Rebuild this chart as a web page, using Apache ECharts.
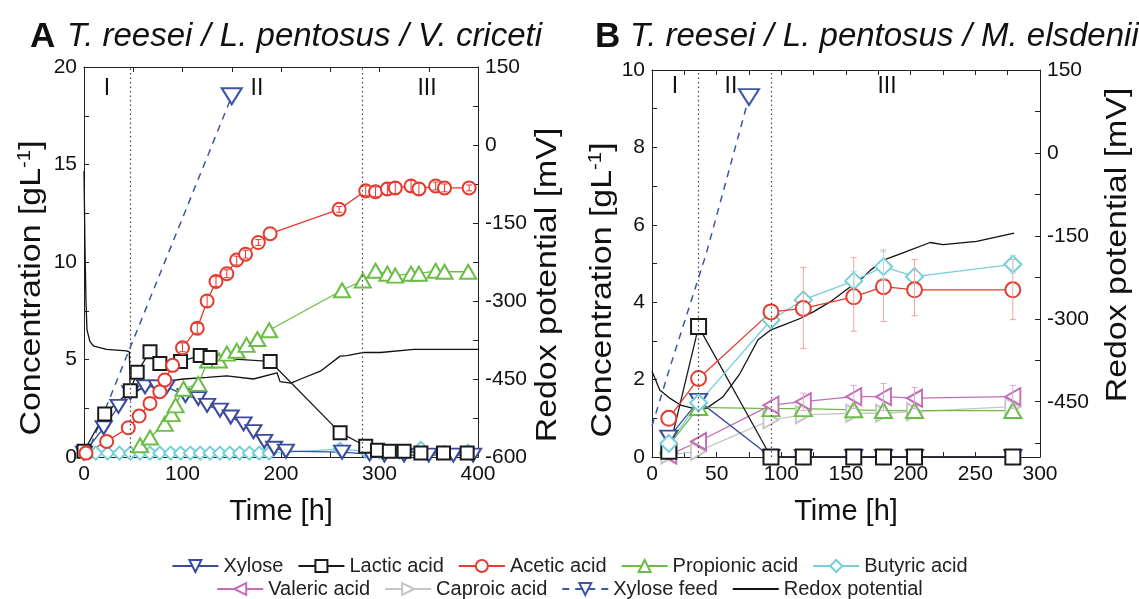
<!DOCTYPE html>
<html>
<head>
<meta charset="utf-8">
<script src="https://cdn.jsdelivr.net/npm/echarts@6/dist/echarts.min.js"></script>
<style>
  html, body { margin: 0; padding: 0; background: #fff; }
  #chart { width: 1139px; height: 599px; }
</style>
</head>
<body>
<div id="chart"></div>
<script>
// ---- panel A: T. reesei / L. pentosus / V. criceti  ([h, g/L], redox in mV)
var xyloseA = [[0,0.2],[20,1.5],[35,2.6],[47,3.3],[62,3.6],[74,3.6],[84,3.6],[103,3.15],[116,3.0],[125,2.65],[138,2.4],[149,2.05],[162,1.7],[172,1.3],[183,0.8],[193,0.45],[205,0.3],[262,0.25],[290,0.15],[305,0.1],[325,0.1],[350,0.1],[375,0.1],[395,0.1]];
var lacticA = [[0,0.3],[21,2.2],[47,3.4],[54,4.35],[67,5.4],[77,4.8],[98,4.9],[118,5.2],[128,5.1],[189,4.9],[260,1.25],[286,0.55],[298,0.35],[310,0.3],[325,0.3],[342,0.2],[365,0.2],[389,0.2]];
var aceticA = [[2,0.2],[23,0.8],[45,1.5],[56,2.1],[67,2.75],[77,3.35],[82,3.95],[90,4.7],[100,5.6],[115,6.6],[125,8.0],[134,9.0],[145,9.4],[155,10.1],[164,10.4],[177,11.0],[189,11.45],[259,12.7],[286,13.65],[296,13.6],[308,13.75],[316,13.8],[332,13.9],[340,13.75],[357,13.9],[366,13.8],[391,13.8]];
var aceticErrA = [[100,5.4,5.85],[115,6.35,6.85],[125,7.7,8.3],[134,8.75,9.25],[145,9.2,9.6],[155,9.85,10.3],[164,10.2,10.6],[177,10.85,11.15],[259,12.55,12.85],[286,13.4,13.9],[296,13.35,13.85],[308,13.45,14.05],[316,13.5,14.1],[332,13.6,14.2],[340,13.45,14.05],[357,13.7,14.1],[366,13.6,14.0],[391,13.65,13.95]];
var propionicA = [[57,0.6],[67,1.0],[82,1.7],[89,2.2],[93,2.65],[101,3.5],[116,3.75],[126,4.95],[137,4.95],[145,5.3],[155,5.45],[165,5.75],[176,6.05],[188,6.5],[262,8.55],[283,9.05],[296,9.55],[308,9.4],[316,9.3],[332,9.4],[340,9.4],[357,9.55],[366,9.5],[390,9.5]];
var butyricA = [[0,0.2],[12,0.2],[24,0.2],[36,0.2],[47,0.2],[57,0.2],[67,0.2],[77,0.2],[88,0.2],[98,0.2],[108,0.2],[118,0.2],[128,0.2],[138,0.2],[148,0.2],[158,0.2],[168,0.2],[178,0.2],[188,0.2],[260,0.4],[286,0.3],[300,0.25],[320,0.25],[342,0.45],[366,0.25],[390,0.3]];
var feedA = [[2,0],[150,18.5]];
var redoxA = [[0,-50],[1,-200],[2,-300],[3,-355],[6,-378],[10,-387],[23,-393],[43,-396],[46,-398],[47,-480],[57,-470],[77,-456],[101,-450],[125,-447],[145,-444],[172,-450],[196,-438],[199,-455],[210,-458],[220,-450],[240,-435],[260,-406],[267,-405],[284,-399],[301,-399],[335,-393],[400,-393]];
var phasesA = [47, 282];

// ---- panel B: T. reesei / L. pentosus / M. elsdenii
var timeB = [13, 36, 92, 117, 156, 179, 203, 279];
var xyloseB = [0.5, 1.45, 0, 0, 0, 0, 0, 0];
var lacticB = [0.15, 3.37, 0, 0, 0, 0, 0, 0];
var aceticB = [1.0, 2.03, 3.75, 3.84, 4.14, 4.4, 4.32, 4.32];
var propionicB = [0.3, 1.28, 1.25, 1.25, 1.22, 1.2, 1.2, 1.2];
var butyricB = [0.35, 1.4, 3.54, 4.06, 4.55, 4.92, 4.66, 4.98];
var valericB = [0.05, 0.4, 1.34, 1.43, 1.56, 1.56, 1.52, 1.56];
var caproicB = [0.05, 0.15, 0.96, 1.09, 1.13, 1.13, 1.17, 1.3];
var aceticErrB = [[117,2.8,4.9],[156,3.25,5.15],[179,3.5,5.35],[203,3.65,5.1],[279,3.55,5.1]];
var butyricErrB = [[156,4.3,4.8],[179,4.6,5.3],[279,4.75,5.2]];
var valericErrB = [[117,1.2,1.65],[156,1.25,1.85],[179,1.2,1.9],[203,1.25,1.8],[279,1.25,1.85]];
var feedB = [[0,0.8],[14,2.33],[42,5.26],[75,9.3]];
var redoxB = [[0,-395],[6,-429],[14,-444],[22,-456],[32,-462],[42,-462],[55,-441],[68,-399],[82,-338],[92,-320],[102,-311],[115,-299],[125,-287],[138,-269],[150,-248],[161,-230],[169,-212],[179,-194],[195,-180],[215,-162],[225,-166],[251,-160],[280,-145]];
var phasesB = [36, 92.5];

// axis tick labels
var redoxTicksA = [-600, -525, -450, -375, -300, -225, -150, -75, 0, 75, 150];
var redoxLabelsA = [-600, -450, -300, -150, 0, 150];
var redoxTicksB = [-525, -450, -375, -300, -225, -150, -75, 0, 75, 150];
var redoxLabelsB = [-450, -300, -150, 0, 150];

var row1 = ['Xylose', 'Lactic acid', 'Acetic acid', 'Propionic acid', 'Butyric acid'];
var row2 = ['Valeric acid', 'Caproic acid', 'Xylose feed', 'Redox potential'];

var FONT = '"Liberation Sans", Arial, sans-serif';
var C = {
  xylose: '#3c4b9c', lactic: '#1a1a1a', acetic: '#e63a2f', propionic: '#6cbd46',
  butyric: '#74cfd8', valeric: '#c56cb6', caproic: '#c6c6c6', feed: '#3e55a8', redox: '#111'
};

var chart = echarts.init(document.getElementById('chart'));

function pairs(t, v) {
  return t.map(function (x, i) { return [x, v[i]]; });
}

function line(name, data, color, symbol, rot, size, xi, yi) {
  return {
    name: name, type: 'line', xAxisIndex: xi, yAxisIndex: yi, data: data,
    symbol: symbol, symbolSize: size, symbolRotate: rot,
    lineStyle: { color: color, width: 1.3 },
    itemStyle: { color: color, borderWidth: 1.3 },
    z: 3
  };
}

function feed(data, xi, yi) {
  var d = data.map(function (p, i) {
    return i === data.length - 1 ? { value: p } : { value: p, symbol: 'none' };
  });
  return {
    name: 'Xylose feed', type: 'line', xAxisIndex: xi, yAxisIndex: yi, data: d,
    symbol: 'emptyTriangle', symbolRotate: 180, symbolSize: [20, 16],
    lineStyle: { color: C.feed, width: 1.5, type: [7, 6] },
    itemStyle: { color: C.feed, borderWidth: 1.3 }, z: 3
  };
}

function redox(data, phases, xi, yi) {
  return {
    name: 'Redox potential', type: 'line', xAxisIndex: xi, yAxisIndex: yi, data: data,
    symbol: 'none', lineStyle: { color: C.redox, width: 1.3 }, itemStyle: { color: C.redox }, z: 2,
    markLine: {
      silent: true, symbol: ['none', 'none'], label: { show: false },
      lineStyle: { color: '#444', type: [1.5, 3], width: 1.2 },
      data: phases.map(function (p) { return { xAxis: p }; })
    }
  };
}

function errBars(data, color, xi, yi) {
  return {
    type: 'custom', xAxisIndex: xi, yAxisIndex: yi, data: data, z: 4,
    encode: { x: 0, y: [1, 2] },
    renderItem: function (params, api) {
      var x = api.value(0);
      var lo = api.coord([x, api.value(1)]);
      var hi = api.coord([x, api.value(2)]);
      var st = { stroke: color, lineWidth: 1 };
      return {
        type: 'group', children: [
          { type: 'line', shape: { x1: lo[0], y1: lo[1], x2: hi[0], y2: hi[1] }, style: st },
          { type: 'line', shape: { x1: lo[0] - 3, y1: lo[1], x2: lo[0] + 3, y2: lo[1] }, style: st },
          { type: 'line', shape: { x1: hi[0] - 3, y1: hi[1], x2: hi[0] + 3, y2: hi[1] }, style: st }
        ]
      };
    }
  };
}

var tickStyle = { inside: true, length: 5, lineStyle: { color: '#222' } };
var axisLineStyle = { show: true, onZero: false, lineStyle: { color: '#222', width: 1 } };
var labelStyle = { fontSize: 21, color: '#111', fontFamily: FONT };
var nameStyle = { fontSize: 29, color: '#111', fontFamily: FONT };

function xBottom(grid, max, interval, labelStep) {
  return {
    type: 'value', gridIndex: grid, min: 0, max: max, interval: interval,
    axisLine: axisLineStyle, axisTick: tickStyle, splitLine: { show: false },
    axisLabel: Object.assign({ margin: 7, formatter: function (v) { return v % labelStep === 0 ? v : ''; } }, labelStyle),
    name: 'Time [h]', nameLocation: 'middle', nameGap: 40, nameTextStyle: nameStyle
  };
}
function xTop(grid, max, interval) {
  return {
    type: 'value', gridIndex: grid, position: 'top', min: 0, max: max, interval: interval,
    axisLine: axisLineStyle, axisTick: tickStyle, axisLabel: { show: false }, splitLine: { show: false }
  };
}
function yLeft(grid, max, interval, labelStep) {
  return {
    type: 'value', gridIndex: grid, position: 'left', min: 0, max: max, interval: interval,
    axisLine: axisLineStyle, axisTick: tickStyle, splitLine: { show: false },
    axisLabel: Object.assign({ margin: 7, formatter: function (v) { return v % labelStep === 0 ? v : ''; } }, labelStyle)
  };
}
function yRight(grid, min, ticks, labels) {
  return {
    type: 'value', gridIndex: grid, position: 'right', min: min, max: 150,
    axisLine: axisLineStyle, splitLine: { show: false },
    axisTick: Object.assign({ customValues: ticks }, tickStyle),
    axisLabel: Object.assign({ margin: 7, customValues: labels }, labelStyle)
  };
}

// vertical axis titles (slightly stretched along the text, like the figure)
function vTitle(text, x, y) {
  return {
    type: 'text', x: x, y: y, rotation: Math.PI / 2, scaleX: 1.13,
    style: {
      text: text, font: '30px ' + FONT, fill: '#111', align: 'center', verticalAlign: 'middle',
      rich: { s: { fontSize: 18, fontFamily: FONT, fill: '#111', padding: [0, 0, 14, 0] } }
    }
  };
}
function label(text, x, y, font) {
  return { type: 'text', x: x, y: y, style: { text: text, font: font, fill: '#111', align: 'center', verticalAlign: 'middle' } };
}

var legendBase = {
  left: 'center', itemWidth: 46, itemHeight: 15, itemGap: 14, selectedMode: false,
  textStyle: { fontSize: 20, color: '#222', fontFamily: FONT }
};
function legendData(names) {
  return names.map(function (n) {
    return n === 'Redox potential' ? { name: n, itemStyle: { opacity: 0 } } : { name: n };
  });
}

chart.setOption({
  animation: false,
  backgroundColor: '#fff',
  grid: [
    { left: 84, top: 67, width: 394, height: 390 },
    { left: 652, top: 70, width: 388, height: 387 }
  ],
  xAxis: [xBottom(0, 400, 50, 100), xTop(0, 400, 50), xBottom(1, 300, 25, 50), xTop(1, 300, 25)],
  yAxis: [
    yLeft(0, 20, 2.5, 5),
    yRight(0, -600, redoxTicksA, redoxLabelsA),
    yLeft(1, 10, 1, 2),
    yRight(1, -550, redoxTicksB, redoxLabelsB)
  ],
  legend: [
    Object.assign({ data: legendData(row1), top: 551 }, legendBase),
    Object.assign({ data: legendData(row2), top: 574 }, legendBase)
  ],
  graphic: [
    { type: 'text', x: 30, y: 37, style: { text: 'A', font: 'bold 35px ' + FONT, fill: '#111', verticalAlign: 'middle' } },
    { type: 'text', x: 67, y: 37, style: { text: 'T. reesei / L. pentosus / V. criceti', font: 'italic 33px ' + FONT, fill: '#111', verticalAlign: 'middle' } },
    { type: 'text', x: 595, y: 37, style: { text: 'B', font: 'bold 35px ' + FONT, fill: '#111', verticalAlign: 'middle' } },
    { type: 'text', x: 630, y: 37, style: { text: 'T. reesei / L. pentosus / M. elsdenii', font: 'italic 33px ' + FONT, fill: '#111', verticalAlign: 'middle' } },
    vTitle('Concentration [gL{s|-1}]', 32, 288),
    vTitle('Redox potential [mV]', 548, 285),
    vTitle('Concentration [gL{s|-1}]', 603, 290),
    vTitle('Redox potential [mV]', 1118, 245),
    label('I', 107, 89, '23px ' + FONT),
    label('II', 257, 89, '23px ' + FONT),
    label('III', 427, 89, '23px ' + FONT),
    label('I', 675, 87, '23px ' + FONT),
    label('II', 731, 87, '23px ' + FONT),
    label('III', 887, 87, '23px ' + FONT)
  ],
  series: [
    // panel A
    redox(redoxA, phasesA, 0, 1),
    feed(feedA, 0, 0),
    line('Butyric acid', butyricA, C.butyric, 'emptyDiamond', 0, 13, 0, 0),
    line('Xylose', xyloseA, C.xylose, 'emptyTriangle', 180, [16, 13], 0, 0),
    line('Propionic acid', propionicA, C.propionic, 'emptyTriangle', 0, [16, 14], 0, 0),
    line('Lactic acid', lacticA, C.lactic, 'emptyRect', 0, 13, 0, 0),
    line('Acetic acid', aceticA, C.acetic, 'emptyCircle', 0, 13, 0, 0),
    errBars(aceticErrA, C.acetic, 0, 0),
    // panel B
    redox(redoxB, phasesB, 2, 3),
    feed(feedB, 2, 2),
    line('Caproic acid', pairs(timeB, caproicB), C.caproic, 'emptyTriangle', -90, [17, 15], 2, 2),
    line('Propionic acid', pairs(timeB, propionicB), C.propionic, 'emptyTriangle', 0, [17, 15], 2, 2),
    line('Valeric acid', pairs(timeB, valericB), C.valeric, 'emptyTriangle', 90, [17, 15], 2, 2),
    line('Xylose', pairs(timeB, xyloseB), C.xylose, 'emptyTriangle', 180, [17, 14], 2, 2),
    line('Lactic acid', pairs(timeB, lacticB), C.lactic, 'emptyRect', 0, 15, 2, 2),
    line('Butyric acid', pairs(timeB, butyricB), C.butyric, 'emptyDiamond', 0, 17, 2, 2),
    line('Acetic acid', pairs(timeB, aceticB), C.acetic, 'emptyCircle', 0, 15, 2, 2),
    errBars(aceticErrB, '#f1a3a0', 2, 2),
    errBars(butyricErrB, '#a9e0e6', 2, 2),
    errBars(valericErrB, '#dba6d3', 2, 2)
  ]
});
</script>
</body>
</html>
